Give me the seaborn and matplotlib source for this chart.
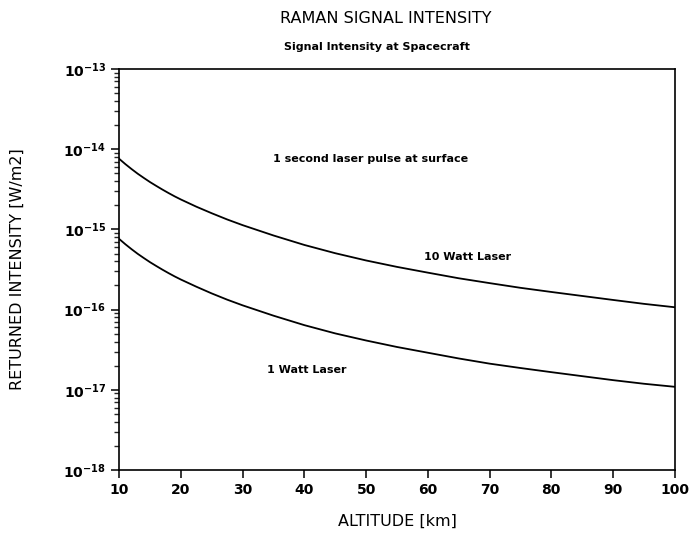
import numpy as np
import pandas as pd
import matplotlib
matplotlib.use("Agg")
import matplotlib.pyplot as plt
from matplotlib.ticker import NullFormatter
import seaborn as sns

# donnees
altitude = [10, 11, 12, 13, 14, 15, 16, 17, 18, 19, 20, 22.5, 25, 27.5, 30, 35, 40, 45, 50,
            55, 60, 65, 70, 75, 80, 85, 90, 95, 100]
laser_10w = [7.59e-15, 6.52e-15, 5.66e-15, 4.95e-15, 4.38e-15, 3.89e-15, 3.49e-15, 3.14e-15,
             2.84e-15, 2.58e-15, 2.36e-15, 1.92e-15, 1.59e-15, 1.33e-15, 1.13e-15, 8.4e-16,
             6.4e-16, 5.05e-16, 4.1e-16, 3.41e-16, 2.89e-16, 2.46e-16, 2.14e-16, 1.87e-16,
             1.66e-16, 1.48e-16, 1.32e-16, 1.18e-16, 1.07e-16]
laser_1w = [7.6e-16, 6.53e-16, 5.67e-16, 4.96e-16, 4.39e-16, 3.9e-16, 3.5e-16, 3.15e-16,
            2.85e-16, 2.59e-16, 2.37e-16, 1.93e-16, 1.59e-16, 1.33e-16, 1.13e-16, 8.4e-17,
            6.4e-17, 5.05e-17, 4.12e-17, 3.42e-17, 2.9e-17, 2.46e-17, 2.12e-17, 1.87e-17,
            1.66e-17, 1.48e-17, 1.32e-17, 1.19e-17, 1.09e-17]
x_ticks = [10, 20, 30, 40, 50, 60, 70, 80, 90, 100]

df = pd.DataFrame({
    "altitude": altitude * 2,
    "intensite": laser_10w + laser_1w,
    "laser": ["10 W"] * len(altitude) + ["1 W"] * len(altitude),
})

sns.set_theme(style="ticks")
plt.rcParams["font.family"] = ["DejaVu Sans"]
plt.rcParams["text.color"] = "black"
plt.rcParams["axes.labelcolor"] = "black"

fig = plt.figure(figsize=(6.97, 5.35), dpi=100)
ax = fig.add_axes([0.171, 0.1215, 0.797, 0.7495])

sns.lineplot(data=df, x="altitude", y="intensite", hue="laser",
             palette=["black", "black"], legend=False, linewidth=1.3, ax=ax)

ax.set_yscale("log")
ax.set_xlim(10, 100)
ax.set_ylim(1e-18, 1e-13)
ax.set_xticks(x_ticks)
ax.set_xticklabels([str(t) for t in x_ticks])
ax.yaxis.set_minor_formatter(NullFormatter())

for s in ax.spines.values():
    s.set_color("black")
    s.set_linewidth(1.2)

ax.tick_params(axis="both", which="major", direction="out", length=6, width=1.1,
               labelsize=10, colors="black", top=False, right=False)
ax.tick_params(axis="y", which="minor", direction="out", length=3.5, width=1.0,
               left=True, right=False)
for lab in ax.get_xticklabels() + ax.get_yticklabels():
    lab.set_fontweight("bold")

ax.set_xlabel("ALTITUDE [km]", fontsize=11.5, labelpad=12)
ax.set_ylabel("RETURNED INTENSITY [W/m2]", fontsize=11.5, labelpad=28)

# titres
fig.text(0.553, 0.965, "RAMAN SIGNAL INTENSITY", ha="center", va="center", fontsize=11.5)
fig.text(0.541, 0.912, "Signal Intensity at Spacecraft", ha="center", va="center",
         fontsize=8, fontweight="bold")

# annotations
ax.text(35, 7.5e-15, "1 second laser pulse at surface", fontsize=8, fontweight="bold",
        ha="left", va="center")
ax.text(59.4, 4.5e-16, "10 Watt Laser", fontsize=8, fontweight="bold", ha="left", va="center")
ax.text(34, 1.78e-17, "1 Watt Laser", fontsize=8, fontweight="bold", ha="left", va="center")

fig.savefig("out.png", dpi=100, facecolor="white")
